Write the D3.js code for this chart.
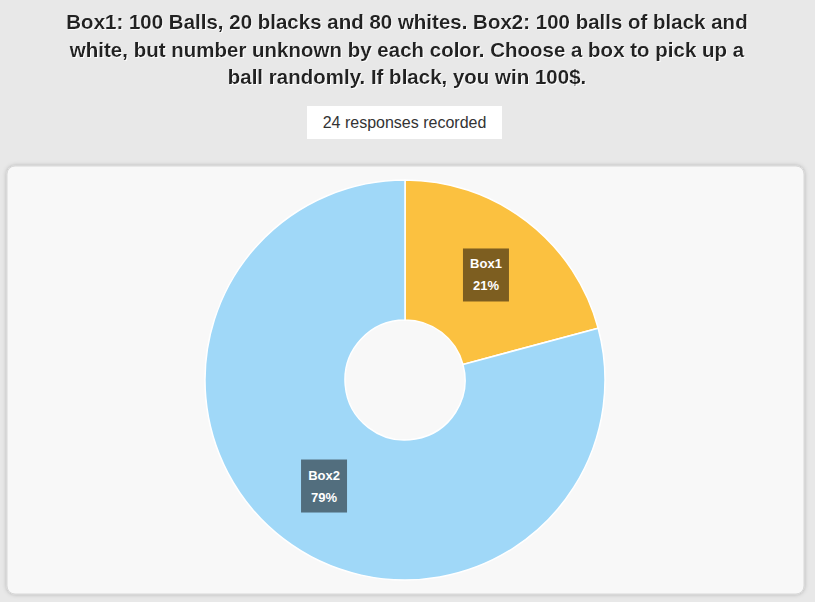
<!DOCTYPE html>
<html><head><meta charset="utf-8">
<script src="https://cdn.jsdelivr.net/npm/d3@7"></script>
<style>
body{margin:0;background:#e8e8e8;font-family:"Liberation Sans",Arial,sans-serif;}
</style></head><body>
<svg id="c" width="815" height="602"></svg>
<script>
const titleLines = ["Box1: 100 Balls, 20 blacks and 80 whites. Box2: 100 balls of black and",
 "white, but number unknown by each color. Choose a box to pick up a",
 "ball randomly. If black, you win 100$."];
const subtitle = "24 responses recorded";
const categories = ["Box1","Box2"];
const values = [5,19];
const colors = ["#fbc140","#a0d8f8"];
const labelBg = ["#7d5e20","#526e7e"];

const svg = d3.select("#c");
const defs = svg.append("defs");
const f = defs.append("filter").attr("id","sh").attr("x","-5%").attr("y","-5%").attr("width","110%").attr("height","110%");
f.append("feDropShadow").attr("dx",0).attr("dy",0).attr("stdDeviation",2).attr("flood-color","#000").attr("flood-opacity",0.25);
const tf = defs.append("filter").attr("id","ts");
tf.append("feDropShadow").attr("dx",1).attr("dy",1).attr("stdDeviation",0.5).attr("flood-color","#fff").attr("flood-opacity",0.9);

svg.selectAll("text.t").data(titleLines).join("text").attr("class","t")
 .attr("x",407).attr("y",(d,i)=>29+i*27.5).attr("text-anchor","middle")
 .attr("font-size",20.5).attr("font-weight","bold").attr("fill","#222").attr("filter","url(#ts)").text(d=>d);

svg.append("rect").attr("x",307).attr("y",106).attr("width",195).attr("height",33).attr("fill","#fff");
svg.append("text").attr("x",404.5).attr("y",128).attr("text-anchor","middle").attr("font-size",16).attr("fill","#333").text(subtitle);

svg.append("rect").attr("x",7).attr("y",166).attr("width",797).attr("height",428).attr("rx",8)
 .attr("fill","#f8f8f8").attr("stroke","#d8d8d8").attr("filter","url(#sh)");

const total = d3.sum(values);
const pie = d3.pie().sort(null).value(d=>d)(values);
const arc = d3.arc().innerRadius(60).outerRadius(200);
const g = svg.append("g").attr("transform","translate(405,380)");
g.selectAll("path").data(pie).join("path").attr("d",arc).attr("fill",(d,i)=>colors[i]).attr("stroke","#fff").attr("stroke-width",1.5);
const la = d3.arc().innerRadius(133).outerRadius(133);
pie.forEach((d,i)=>{
  const [x,y]=la.centroid(d);
  const lg=g.append("g").attr("transform",`translate(${x},${y})`);
  lg.append("rect").attr("x",-23).attr("y",-26).attr("width",46).attr("height",53).attr("fill",labelBg[i]);
  lg.append("text").attr("text-anchor","middle").attr("y",-6).attr("font-size",13).attr("font-weight","bold").attr("fill","#fff").text(categories[i]);
  lg.append("text").attr("text-anchor","middle").attr("y",16).attr("font-size",13).attr("font-weight","bold").attr("fill","#fff").text(Math.round(values[i]/total*100)+"%");
});
</script></body></html>
